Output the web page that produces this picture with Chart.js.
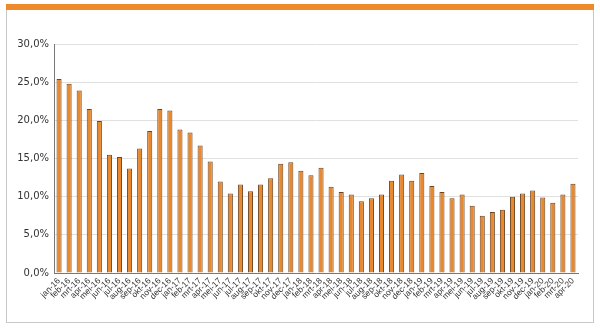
<!DOCTYPE html>
<html>
<head>
<meta charset="utf-8">
<script src="https://cdn.jsdelivr.net/npm/chart.js@4/dist/chart.umd.min.js"></script>
<style>
  html, body { margin: 0; padding: 0; background: #fff; }
  #wrap { position: relative; width: 600px; height: 330px; }
  #topbar { position: absolute; left: 6px; top: 4px; width: 588px; height: 6px; background: #ef8a2b; }
  #frame { position: absolute; left: 6px; top: 10px; width: 586px; height: 312px; border: 1px solid #c8c8c8; border-top: none; }
  canvas { position: absolute; left: 0; top: 0; }
</style>
</head>
<body>
<div id="wrap">
  <div id="topbar"></div>
  <div id="frame"></div>
  <canvas id="myChart" width="600" height="330"></canvas>
</div>
<script>
var months = ['jan', 'feb', 'mrt', 'apr', 'mei', 'jun', 'jul', 'aug', 'sep', 'okt', 'nov', 'dec'];
var years = ['16', '17', '18', '19', '20'];

var labels = [];
years.forEach(function (y) {
    months.forEach(function (m) {
        labels.push(m + '-' + y);
    });
});
labels = labels.slice(0, 52); // jan-16 .. apr-20

var values = [
    25.4, 24.8, 23.9, 21.5, 19.9, 15.5, 15.2, 13.7, 16.3, 18.6, 21.5, 21.3,
    18.8, 18.4, 16.7, 14.6, 12.0, 10.4, 11.6, 10.7, 11.6, 12.4, 14.3, 14.5,
    13.4, 12.8, 13.8, 11.3, 10.6, 10.3, 9.4, 9.8, 10.3, 12.1, 12.9, 12.1,
    13.1, 11.4, 10.6, 9.8, 10.3, 8.8, 7.5, 8.0, 8.3, 10.0, 10.4, 10.8,
    9.9, 9.2, 10.3, 11.7
];

var yTicks = [0, 5, 10, 15, 20, 25, 30];

document.addEventListener('DOMContentLoaded', function () {
    var ctx = document.getElementById('myChart').getContext('2d');
    new Chart(ctx, {
        type: 'bar',
        data: {
            labels: labels,
            datasets: [{
                data: values,
                backgroundColor: '#e8892f',
                borderColor: '#6e4520',
                borderWidth: 1,
                barPercentage: 0.56,
                categoryPercentage: 0.9
            }]
        },
        options: {
            responsive: false,
            animation: false,
            layout: { padding: { top: 44, right: 22, left: 0, bottom: 0 } },
            plugins: { legend: { display: false }, tooltip: { enabled: false } },
            scales: {
                y: {
                    min: 0,
                    max: 30,
                    afterBuildTicks: function (axis) {
                        axis.ticks = yTicks.map(function (v) { return { value: v }; });
                    },
                    afterFit: function (axis) { axis.width = 54; },
                    ticks: {
                        color: '#333',
                        font: { family: 'DejaVu Sans', size: 10 },
                        padding: 5,
                        callback: function (v) { return v.toFixed(1).replace('.', ',') + '%'; }
                    },
                    grid: { color: '#e0e0e0', drawTicks: false },
                    border: { color: '#777' }
                },
                x: {
                    afterFit: function (axis) { axis.height = 57; },
                    ticks: {
                        color: '#333',
                        autoSkip: false,
                        maxRotation: 45,
                        minRotation: 45,
                        padding: 0,
                        font: { family: 'Liberation Sans', size: 8.5 }
                    },
                    grid: { display: false, drawTicks: true, tickLength: 3 },
                    border: { color: '#777' }
                }
            }
        }
    });
});
</script>
</body>
</html>
